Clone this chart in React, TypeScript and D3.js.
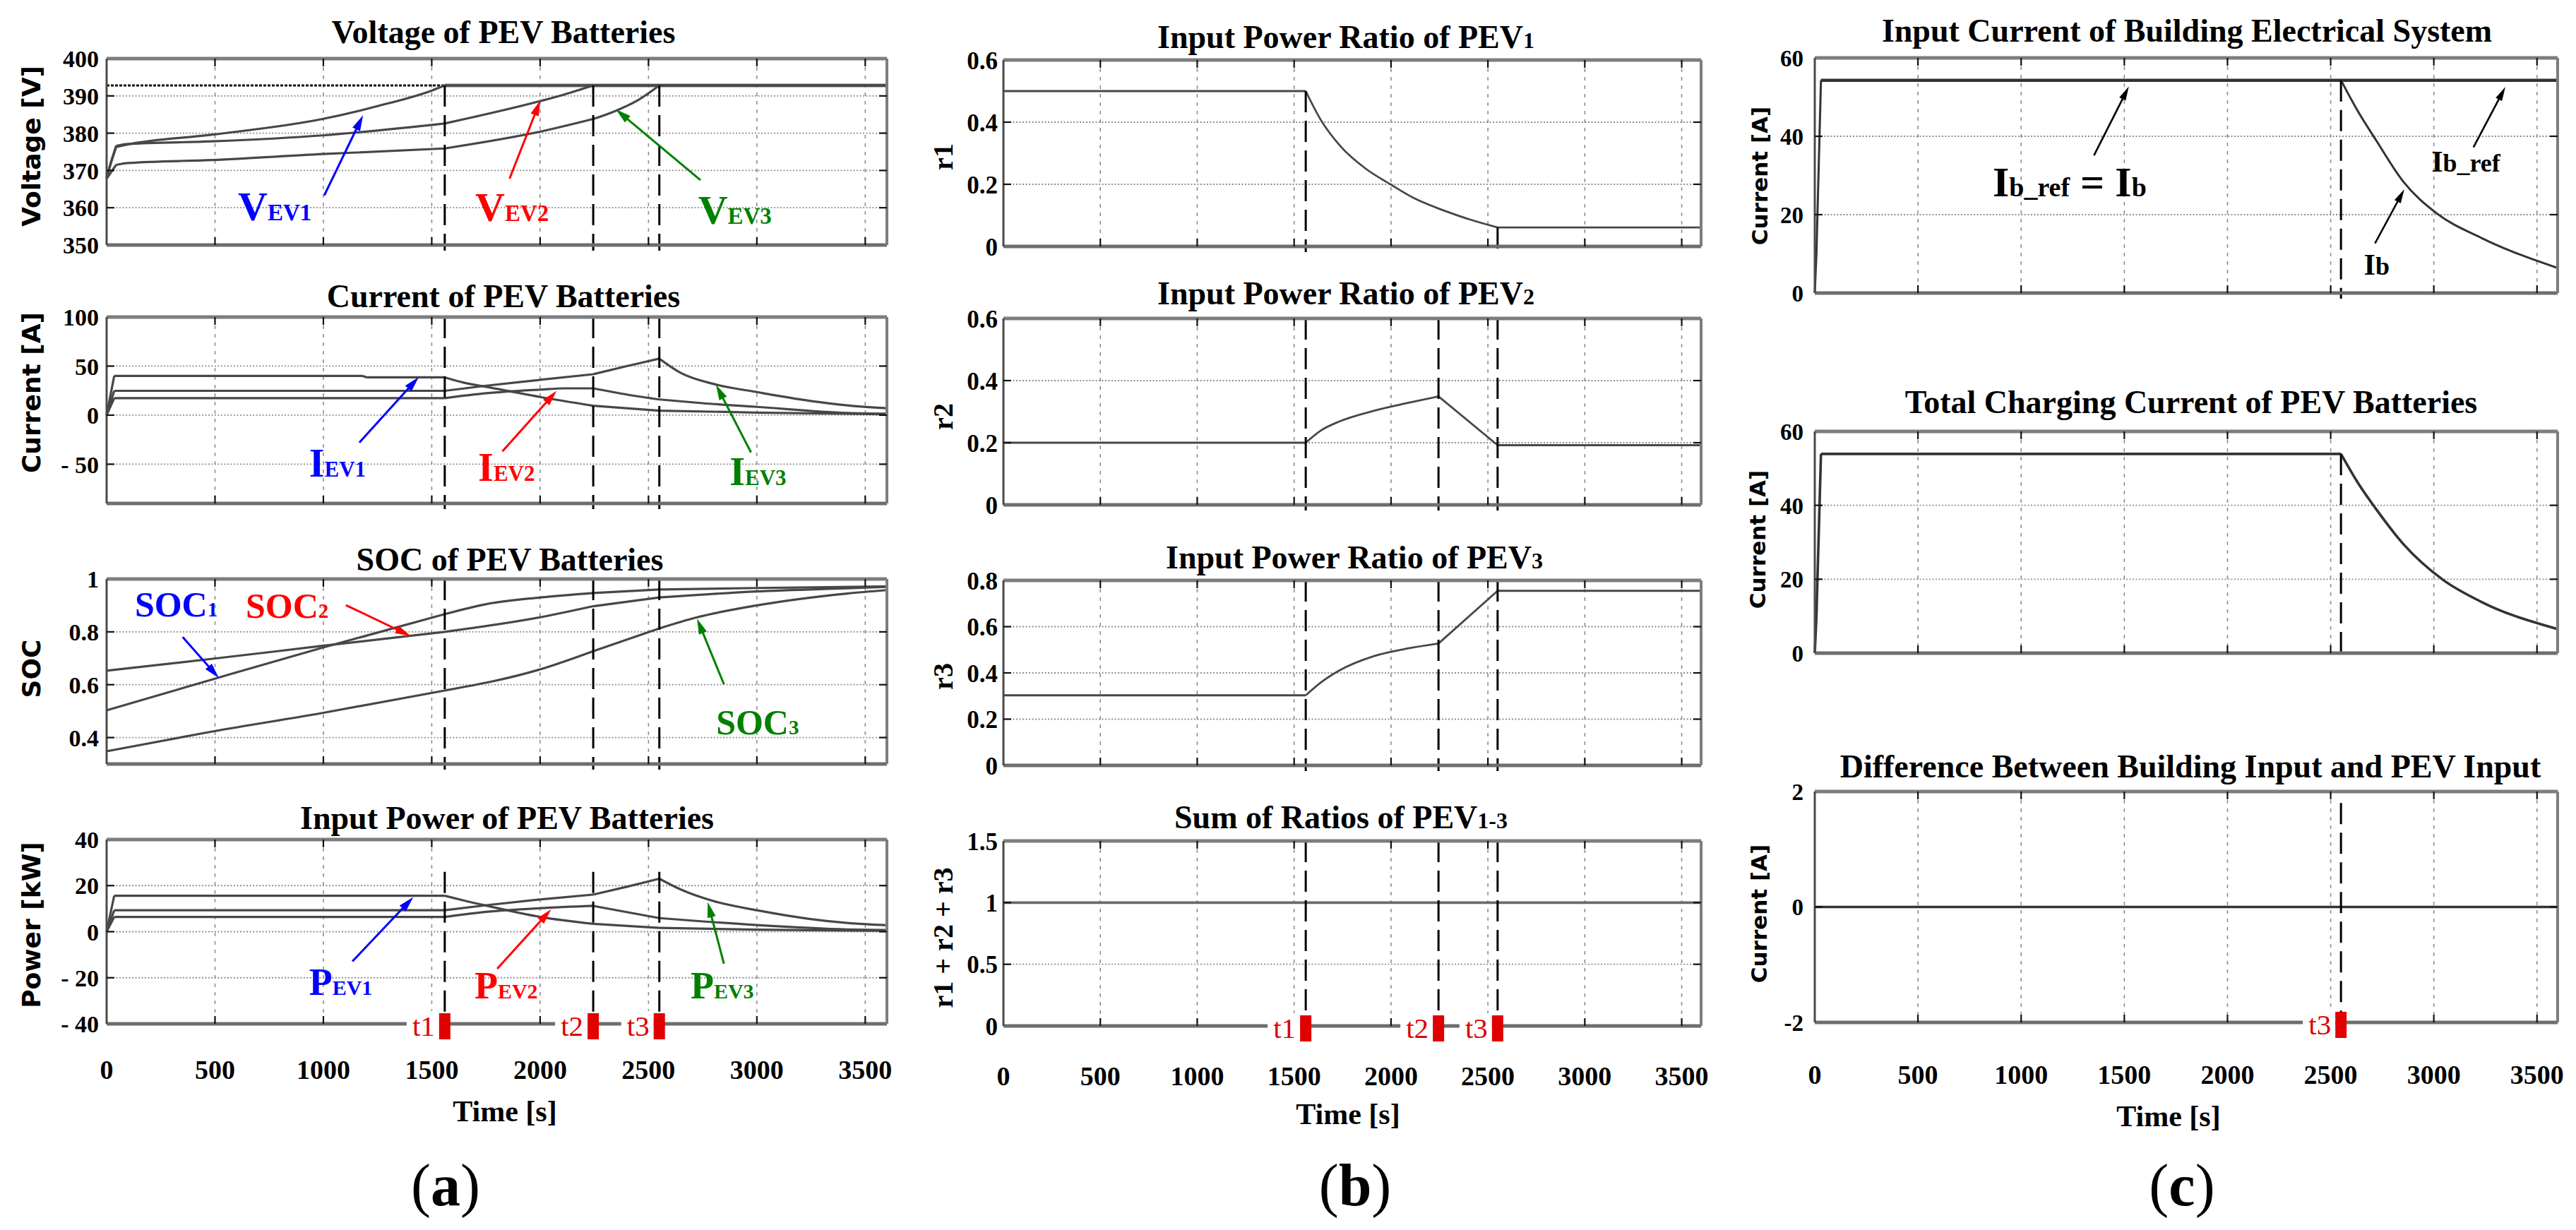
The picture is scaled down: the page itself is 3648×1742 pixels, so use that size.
import React from 'react';
import * as d3 from 'd3';

type Pt = [number, number];

// ---------------- data ----------------
const timeDomain: [number, number] = [0, 3600];
const timeTicks = [0, 500, 1000, 1500, 2000, 2500, 3000, 3500];
const T1 = 1560;
const T2 = 2245;
const T3 = 2550;
const eventTimes = [T1, T2, T3];
const eventLabels = ['t1', 't2', 't3'];
const kinkTimes = [T1, T2, T3, 1180, 1200];

// (a) voltage [V]
const vMax = 392.8;
const vEv1: Pt[] = [[0, 368], [20, 372], [44, 376.3], [100, 377], [488, 379.6], [996, 383.8], [1253, 387.3], [1503, 391.5], [T1, 392.8], [3600, 392.8]];
const vEv2: Pt[] = [[0, 368], [20, 372.3], [44, 376.6], [100, 377.1], [488, 377.8], [996, 379.4], [T1, 382.6], [2000, 388.6], [2113, 390.4], [T2, 392.8], [3600, 392.8]];
const vEv3: Pt[] = [[0, 367.8], [20, 369.5], [44, 371.5], [100, 372], [488, 372.8], [996, 374.4], [T1, 375.9], [2000, 380.4], [T2, 383.8], [2349, 386], [2450, 388.8], [T3, 392.8], [3600, 392.8]];

// (a) current [A]
const iEv1: Pt[] = [[0, 0], [35, 40], [1180, 40], [1200, 38.5], [T1, 38.5], [1650, 33], [1752, 28.8], [2000, 18.5], [T2, 9.6], [T3, 4.6], [3000, 2.6], [3417, 1.4], [3600, 1]];
const iEv2: Pt[] = [[0, 0], [35, 17.3], [T1, 17.3], [1752, 22.3], [2000, 26], [2113, 27.3], [T2, 27.3], [2400, 21], [T3, 16], [2749, 12.2], [3000, 8.4], [3417, 2.2], [3600, 1.5]];
const iEv3: Pt[] = [[0, 0], [35, 24.8], [T1, 24.8], [1752, 30], [2000, 36], [T2, 41.7], [2400, 50], [T3, 57.6], [2649, 43], [2811, 31.2], [3000, 23.5], [3247, 14.5], [3417, 10], [3600, 7]];

// (a) SOC
const soc1: Pt[] = [[0, 0.503], [488, 0.62], [996, 0.74], [T1, 0.867], [1752, 0.905], [2000, 0.93], [T2, 0.947], [T3, 0.96], [3000, 0.966], [3600, 0.972]];
const soc2: Pt[] = [[0, 0.653], [488, 0.698], [996, 0.747], [T1, 0.8], [2000, 0.855], [T2, 0.897], [T3, 0.93], [3000, 0.953], [3417, 0.965], [3600, 0.97]];
const soc3: Pt[] = [[0, 0.348], [488, 0.423], [996, 0.493], [T1, 0.578], [2000, 0.658], [T2, 0.727], [T3, 0.813], [2724, 0.855], [3000, 0.9], [3417, 0.945], [3600, 0.958]];

// (a) power [kW]
const pEv1: Pt[] = [[0, 0], [35, 15.6], [T1, 15.6], [1650, 13.5], [1752, 11.3], [2000, 6.4], [T2, 3.4], [T3, 1.65], [3000, 0.9], [3417, 0.5], [3600, 0.4]];
const pEv2: Pt[] = [[0, 0], [35, 6.4], [T1, 6.4], [1752, 8.6], [2000, 10.2], [T2, 11.2], [T3, 5.9], [3000, 2.9], [3417, 1], [3600, 0.7]];
const pEv3: Pt[] = [[0, 0], [35, 9.3], [T1, 9.3], [1752, 11.5], [2000, 14], [T2, 16.1], [2400, 19.5], [T3, 23], [2649, 18.3], [2811, 13], [3000, 9.3], [3247, 5.5], [3417, 3.8], [3600, 2.8]];

// (b) ratios
const ratio1: Pt[] = [[0, 0.5], [T1, 0.5], [1635, 0.41], [1740, 0.322], [1870, 0.25], [1997, 0.2], [2120, 0.155], [T2, 0.122], [2400, 0.088], [T3, 0.061], [3600, 0.061]];
const ratio2: Pt[] = [[0, 0.2], [T1, 0.2], [1640, 0.24], [1732, 0.268], [1913, 0.303], [2095, 0.329], [T2, 0.349], [T3, 0.192], [3600, 0.192]];
const ratio3: Pt[] = [[0, 0.303], [T1, 0.303], [1640, 0.36], [1732, 0.41], [1913, 0.473], [2095, 0.507], [T2, 0.527], [T3, 0.755], [3600, 0.755]];
const ratioSum: Pt[] = [[0, 1], [3600, 1]];

// (c) building / PEV currents [A]
const ibRef: Pt[] = [[30, 54.3], [3600, 54.3]];
const ibActual: Pt[] = [[0, 0], [8, 10], [30, 54.3], [T3, 54.3], [2633, 46.3], [2720, 39], [2851, 28.5], [3015, 20.3], [3233, 14], [3600, 6.4]];
const totalCharging: Pt[] = [[0, 0], [8, 10], [30, 53.9], [T3, 53.9], [2633, 46], [2720, 39], [2851, 29.6], [3043, 19.9], [3233, 13.8], [3600, 6.5]];
const diffCurrent: Pt[] = [[0, 0], [3600, 0]];

// tick labels
const voltTicks = [350, 360, 370, 380, 390, 400];
const voltLabels = ['350', '360', '370', '380', '390', '400'];
const currTicks = [-50, 0, 50, 100];
const currLabels = ['- 50', '0', '50', '100'];
const socTicks = [0.4, 0.6, 0.8, 1];
const socLabels = ['0.4', '0.6', '0.8', '1'];
const powTicks = [-40, -20, 0, 20, 40];
const powLabels = ['- 40', '- 20', '0', '20', '40'];
const r12Ticks = [0, 0.2, 0.4, 0.6];
const r12Labels = ['0', '0.2', '0.4', '0.6'];
const r3Ticks = [0, 0.2, 0.4, 0.6, 0.8];
const r3Labels = ['0', '0.2', '0.4', '0.6', '0.8'];
const sumTicks = [0, 0.5, 1, 1.5];
const sumLabels = ['0', '0.5', '1', '1.5'];
const ampTicks = [0, 20, 40, 60];
const ampLabels = ['0', '20', '40', '60'];
const diffTicks = [-2, 0, 2];
const diffLabels = ['-2', '0', '2'];

const BLUE = '#0000ff';
const RED = '#ff0000';
const GREEN = '#008000';
const BLACK = '#000000';

type Note = { parts: [string, number][]; color: string; at: Pt; tail: Pt; head: Pt };
const voltageNotes: Note[] = [
  { parts: [['V', 58], ['EV1', 33]], color: BLUE, at: [606, 356.6], tail: [1004, 363.3], head: [1183, 384.8] },
  { parts: [['V', 58], ['EV2', 33]], color: RED, at: [1701, 356.4], tail: [1859, 367.8], head: [2001, 388.8] },
  { parts: [['V', 58], ['EV3', 33]], color: GREEN, at: [2729, 355.7], tail: [2740, 367.4], head: [2349, 386.4] },
];
const currentNotes: Note[] = [
  { parts: [['I', 56], ['EV1', 31]], color: BLUE, at: [934, -62.3], tail: [1166, -28], head: [1440, 38.8] },
  { parts: [['I', 56], ['EV2', 31]], color: RED, at: [1714, -67.3], tail: [1826, -37], head: [2076, 24.8] },
  { parts: [['I', 56], ['EV3', 31]], color: GREEN, at: [2874, -71], tail: [2973, -38], head: [2811, 31.2] },
];
const socNotes: Note[] = [
  { parts: [['SOC', 50], ['1', 29]], color: BLUE, at: [130, 0.859], tail: [351, 0.78], head: [518, 0.625] },
  { parts: [['SOC', 50], ['2', 29]], color: RED, at: [642, 0.854], tail: [1104, 0.901], head: [1403, 0.784] },
  { parts: [['SOC', 50], ['3', 29]], color: GREEN, at: [2812, 0.411], tail: [2848, 0.602], head: [2724, 0.85] },
];
const powerNotes: Note[] = [
  { parts: [['P', 54], ['EV1', 30]], color: BLUE, at: [934, -27.4], tail: [1134, -12.9], head: [1415, 15] },
  { parts: [['P', 54], ['EV2', 30]], color: RED, at: [1697, -28.9], tail: [1802, -16.1], head: [2051, 9.7] },
  { parts: [['P', 54], ['EV3', 30]], color: GREEN, at: [2694, -28.9], tail: [2848, -13.9], head: [2773, 12.9] },
];
const ibNotes: Note[] = [
  { parts: [['I', 60], ['b_ref', 38], [' = I', 60], ['b', 38]], color: BLACK, at: [862, 24.7], tail: [1353, 35.1], head: [1522, 52.7] },
  { parts: [['I', 42], ['b_ref', 36]], color: BLACK, at: [2988, 31], tail: [3192, 37.2], head: [3347, 52.6] },
  { parts: [['I', 42], ['b', 36]], color: BLACK, at: [2661, 4.7], tail: [2715, 12.7], head: [2857, 26.5] },
];

// ---------------- drawing helpers ----------------
const SERIF = '"Liberation Serif", "Times New Roman", Times, serif';
const SANS = '"DejaVu Sans", Verdana, sans-serif';

type Scale = d3.ScaleLinear<number, number>;

function segPath(data: Pt[], x: Scale, y: Scale): string {
  const segs: Pt[][] = [];
  let cur: Pt[] = [];
  data.forEach((p, i) => {
    cur.push(p);
    const kink = kinkTimes.includes(p[0]) || p[0] <= 50 || i === data.length - 1;
    if (kink) {
      if (cur.length >= 2) segs.push(cur);
      cur = [p];
    }
  });
  const line = d3.line<Pt>().x((d) => x(d[0])).y((d) => y(d[1])).curve(d3.curveMonotoneX);
  return segs.map((s) => line(s) || '').join('');
}

function Arrow(props: { x1: number; y1: number; x2: number; y2: number; color: string; w: number; hl: number; hw: number }) {
  const { x1, y1, x2, y2, color, w, hl, hw } = props;
  const dx = x2 - x1, dy = y2 - y1;
  const L = Math.hypot(dx, dy);
  const ux = dx / L, uy = dy / L;
  const bx = x2 - ux * hl, by = y2 - uy * hl;
  const px = -uy, py = ux;
  return (
    <g>
      <line x1={x1} y1={y1} x2={bx + ux * 2} y2={by + uy * 2} stroke={color} strokeWidth={w} />
      <polygon points={`${x2},${y2} ${bx + (px * hw) / 2},${by + (py * hw) / 2} ${bx - (px * hw) / 2},${by - (py * hw) / 2}`} fill={color} />
    </g>
  );
}

type SeriesCfg = { data: Pt[]; color?: string; width?: number };
type EventCfg = { t: number; from?: number };

type PanelProps = {
  x0: number; x1: number; y0: number; y1: number;
  yDomain: [number, number];
  yTicks: number[]; yTickLabels: string[]; yTickRight: number; yTickSize: number;
  title: string; titleSub?: string; titleX: number; titleY: number;
  ylabel: string; ylabelX: number; ylabelY: number; ylabelFont: string; ylabelSize: number;
  series: SeriesCfg[];
  events: EventCfg[];
  markers?: number[];
  xLabelY?: number;
  notes?: Note[];
  noteArrow?: { w: number; hl: number; hw: number };
  extra?: (x: Scale, y: Scale) => React.ReactNode;
};

function Panel(p: PanelProps) {
  const x = d3.scaleLinear().domain(timeDomain).range([p.x0, p.x1]);
  const y = d3.scaleLinear().domain(p.yDomain).range([p.y1, p.y0]);
  const gridT = timeTicks.filter((t) => t > 0);
  const innerY = p.yTicks.filter((v) => v > p.yDomain[0] && v < p.yDomain[1]);
  const gridCol = '#8e8e8e';
  return (
    <g>
      {gridT.map((t) => (
        <line key={'gx' + t} x1={x(t)} x2={x(t)} y1={p.y0} y2={p.y1} stroke={gridCol} strokeWidth={1.6} strokeDasharray="5 7" />
      ))}
      {innerY.map((v) => (
        <line key={'gy' + v} x1={p.x0} x2={p.x1} y1={y(v)} y2={y(v)} stroke={gridCol} strokeWidth={1.8} strokeDasharray="2 2.5" />
      ))}
      {p.extra ? p.extra(x, y) : null}
      {p.series.map((s, i) => (
        <path key={'s' + i} d={segPath(s.data, x, y)} fill="none" stroke={s.color || '#474747'} strokeWidth={s.width || 3.2} strokeLinejoin="round" />
      ))}
      {p.events.map((e, i) => (
        <line key={'ev' + i} x1={x(e.t)} x2={x(e.t)} y1={e.from === undefined ? p.y0 : y(e.from)} y2={p.y1 + 8} stroke="#000" strokeWidth={3} strokeDasharray="30 12" />
      ))}
      {/* box */}
      <line x1={p.x0} x2={p.x1} y1={p.y0} y2={p.y0} stroke="#7d7d7d" strokeWidth={5} />
      <line x1={p.x0} x2={p.x1} y1={p.y1} y2={p.y1} stroke="#6e6e6e" strokeWidth={5} />
      <line x1={p.x0} x2={p.x0} y1={p.y0} y2={p.y1} stroke="#4a4a4a" strokeWidth={3} />
      <line x1={p.x1} x2={p.x1} y1={p.y0} y2={p.y1} stroke="#7d7d7d" strokeWidth={4} />
      {gridT.map((t) => (
        <g key={'tx' + t}>
          <line x1={x(t)} x2={x(t)} y1={p.y1} y2={p.y1 - 11} stroke="#111" strokeWidth={2.2} />
          <line x1={x(t)} x2={x(t)} y1={p.y0} y2={p.y0 + 11} stroke="#111" strokeWidth={2.2} />
        </g>
      ))}
      {innerY.map((v) => (
        <g key={'ty' + v}>
          <line x1={p.x0} x2={p.x0 + 11} y1={y(v)} y2={y(v)} stroke="#111" strokeWidth={2.2} />
          <line x1={p.x1} x2={p.x1 - 11} y1={y(v)} y2={y(v)} stroke="#111" strokeWidth={2.2} />
        </g>
      ))}
      {p.yTicks.map((v, i) => (
        <text key={'yl' + v} x={p.yTickRight} y={y(v)} dy="0.36em" textAnchor="end" fontFamily={SERIF} fontWeight="bold" fontSize={p.yTickSize} fill="#000">
          {p.yTickLabels[i]}
        </text>
      ))}
      <text x={p.titleX} y={p.titleY} textAnchor="middle" fontFamily={SERIF} fontWeight="bold" fontSize={46} fill="#000">
        <tspan>{p.title}</tspan>
        {p.titleSub ? <tspan fontSize={32}>{p.titleSub}</tspan> : null}
      </text>
      <text transform={`translate(${p.ylabelX},${p.ylabelY}) rotate(-90)`} textAnchor="middle" fontFamily={p.ylabelFont} fontWeight="bold" fontSize={p.ylabelSize} fill="#000">
        {p.ylabel}
      </text>
      {p.xLabelY !== undefined
        ? timeTicks.map((t) => (
            <text key={'xl' + t} x={x(t)} y={p.xLabelY} textAnchor="middle" fontFamily={SERIF} fontWeight="bold" fontSize={38} fill="#000">
              {String(t)}
            </text>
          ))
        : null}
      {p.markers
        ? p.markers.map((k) => {
            const cx = x(eventTimes[k]);
            return (
              <g key={'mk' + k}>
                <rect x={cx - 54} y={p.y1 - 18} width={46} height={40} fill="#fff" />
                <text x={cx - 14} y={p.y1 + 17} textAnchor="end" fontFamily={SERIF} fontSize={41} fill="#e00000">
                  {eventLabels[k]}
                </text>
                <rect x={cx - 8} y={p.y1 - 15} width={16} height={37} fill="#e00000" />
              </g>
            );
          })
        : null}
      {p.notes
        ? p.notes.map((n, i) => (
            <g key={'n' + i}>
              <text x={x(n.at[0])} y={y(n.at[1])} fontFamily={SERIF} fontWeight="bold" fill={n.color}>
                {n.parts.map((pt, j) => (
                  <tspan key={j} fontSize={pt[1]} style={{ whiteSpace: 'pre' }}>
                    {pt[0]}
                  </tspan>
                ))}
              </text>
              <Arrow x1={x(n.tail[0])} y1={y(n.tail[1])} x2={x(n.head[0])} y2={y(n.head[1])} color={n.color} w={p.noteArrow ? p.noteArrow.w : 3} hl={p.noteArrow ? p.noteArrow.hl : 22} hw={p.noteArrow ? p.noteArrow.hw : 12} />
            </g>
          ))
        : null}
    </g>
  );
}

// ---------------- layout ----------------
const colA = { x0: 151, x1: 1256 };
const colB = { x0: 1421, x1: 2409 };
const colC = { x0: 2570, x1: 3622 };

export default function App() {
  const eventsAll: EventCfg[] = eventTimes.map((t) => ({ t }));
  return (
    <svg width={3648} height={1742} viewBox="0 0 3648 1742" style={{ position: 'fixed', left: 0, top: 0, display: 'block', background: '#fff' }}>
      <rect x={0} y={0} width={3648} height={1742} fill="#fff" />

      {/* ---------- column (a) ---------- */}
      <Panel
        {...colA} y0={83} y1={347} yDomain={[350, 400]}
        yTicks={voltTicks} yTickLabels={voltLabels} yTickRight={140} yTickSize={34}
        title="Voltage of PEV Batteries" titleX={713} titleY={61}
        ylabel="Voltage [V]" ylabelX={57} ylabelY={207} ylabelFont={SANS} ylabelSize={36}
        series={[{ data: vEv3 }, { data: vEv2 }, { data: vEv1 }]}
        events={eventTimes.map((t) => ({ t, from: vMax }))}
        notes={voltageNotes}
        extra={(x, y) => (
          <g>
            <line x1={x(0)} x2={x(T1)} y1={y(vMax)} y2={y(vMax)} stroke="#111" strokeWidth={3} strokeDasharray="4 2" />
            <line x1={x(T1)} x2={x(3600)} y1={y(vMax)} y2={y(vMax)} stroke="#777" strokeWidth={5} />
          </g>
        )}
      />
      <Panel
        {...colA} y0={449} y1={713} yDomain={[-90, 100]}
        yTicks={currTicks} yTickLabels={currLabels} yTickRight={140} yTickSize={34}
        title="Current of PEV Batteries" titleX={713} titleY={435}
        ylabel="Current [A]" ylabelX={57} ylabelY={556} ylabelFont={SANS} ylabelSize={36}
        series={[{ data: iEv1 }, { data: iEv2 }, { data: iEv3 }]}
        events={eventsAll}
        notes={currentNotes}
      />
      <Panel
        {...colA} y0={820} y1={1082} yDomain={[0.3, 1]}
        yTicks={socTicks} yTickLabels={socLabels} yTickRight={140} yTickSize={34}
        title="SOC of PEV Batteries" titleX={722} titleY={808}
        ylabel="SOC" ylabelX={57} ylabelY={947} ylabelFont={SANS} ylabelSize={36}
        series={[{ data: soc1 }, { data: soc2 }, { data: soc3 }]}
        events={eventsAll}
        notes={socNotes}
      />
      <Panel
        {...colA} y0={1189} y1={1450} yDomain={[-40, 40]}
        yTicks={powTicks} yTickLabels={powLabels} yTickRight={140} yTickSize={34}
        title="Input Power of PEV Batteries" titleX={718} titleY={1174}
        ylabel="Power [kW]" ylabelX={57} ylabelY={1310} ylabelFont={SANS} ylabelSize={36}
        series={[{ data: pEv1 }, { data: pEv2 }, { data: pEv3 }]}
        events={eventTimes.map((t) => ({ t, from: 26 }))}
        markers={[0, 1, 2]}
        xLabelY={1528}
        notes={powerNotes}
      />
      <text x={715} y={1588} textAnchor="middle" fontFamily={SERIF} fontWeight="bold" fontSize={42}>Time [s]</text>
      <text x={631} y={1707} textAnchor="middle" fontFamily={SERIF} fontSize={84}>
        <tspan>(</tspan><tspan fontWeight="bold">a</tspan><tspan>)</tspan>
      </text>

      {/* ---------- column (b) ---------- */}
      <Panel
        {...colB} y0={85} y1={349} yDomain={[0, 0.6]}
        yTicks={r12Ticks} yTickLabels={r12Labels} yTickRight={1413} yTickSize={35}
        title="Input Power Ratio of PEV" titleSub="1" titleX={1906} titleY={68}
        ylabel="r1" ylabelX={1349} ylabelY={222} ylabelFont={SERIF} ylabelSize={40}
        series={[{ data: ratio1, width: 2.8 }]}
        events={[{ t: T1, from: 0.5 }, { t: T3, from: 0.061 }]}
      />
      <Panel
        {...colB} y0={451} y1={715} yDomain={[0, 0.6]}
        yTicks={r12Ticks} yTickLabels={r12Labels} yTickRight={1413} yTickSize={35}
        title="Input Power Ratio of PEV" titleSub="2" titleX={1906} titleY={431}
        ylabel="r2" ylabelX={1349} ylabelY={590} ylabelFont={SERIF} ylabelSize={40}
        series={[{ data: ratio2, width: 2.8 }]}
        events={eventsAll}
      />
      <Panel
        {...colB} y0={822} y1={1084} yDomain={[0, 0.8]}
        yTicks={r3Ticks} yTickLabels={r3Labels} yTickRight={1413} yTickSize={35}
        title="Input Power Ratio of PEV" titleSub="3" titleX={1918} titleY={805}
        ylabel="r3" ylabelX={1349} ylabelY={958} ylabelFont={SERIF} ylabelSize={40}
        series={[{ data: ratio3, width: 2.8 }]}
        events={eventsAll}
      />
      <Panel
        {...colB} y0={1191} y1={1453} yDomain={[0, 1.5]}
        yTicks={sumTicks} yTickLabels={sumLabels} yTickRight={1413} yTickSize={35}
        title="Sum of Ratios of PEV" titleSub="1-3" titleX={1899} titleY={1173}
        ylabel="r1 + r2 + r3" ylabelX={1349} ylabelY={1328} ylabelFont={SERIF} ylabelSize={40}
        series={[{ data: ratioSum, color: '#6a6a6a', width: 3.6 }]}
        events={eventsAll}
        markers={[0, 1, 2]}
        xLabelY={1537}
      />
      <text x={1909} y={1592} textAnchor="middle" fontFamily={SERIF} fontWeight="bold" fontSize={42}>Time [s]</text>
      <text x={1919} y={1707} textAnchor="middle" fontFamily={SERIF} fontSize={84}>
        <tspan>(</tspan><tspan fontWeight="bold">b</tspan><tspan>)</tspan>
      </text>

      {/* ---------- column (c) ---------- */}
      <Panel
        {...colC} y0={82} y1={415} yDomain={[0, 60]}
        yTicks={ampTicks} yTickLabels={ampLabels} yTickRight={2554} yTickSize={33}
        title="Input Current of Building Electrical System" titleX={3097} titleY={59}
        ylabel="Current [A]" ylabelX={2503} ylabelY={249} ylabelFont={SANS} ylabelSize={31}
        series={[{ data: ibRef, color: '#333', width: 4.5 }, { data: ibActual, color: '#333', width: 3 }]}
        events={[{ t: T3, from: 54.3 }]}
        notes={ibNotes}
        noteArrow={{ w: 2.6, hl: 20, hw: 10 }}
      />
      <Panel
        {...colC} y0={611} y1={925} yDomain={[0, 60]}
        yTicks={ampTicks} yTickLabels={ampLabels} yTickRight={2554} yTickSize={33}
        title="Total Charging Current of PEV Batteries" titleX={3103} titleY={585}
        ylabel="Current [A]" ylabelX={2500} ylabelY={764} ylabelFont={SANS} ylabelSize={31}
        series={[{ data: totalCharging, color: '#333', width: 3.6 }]}
        events={[{ t: T3, from: 53.9 }]}
      />
      <Panel
        {...colC} y0={1121} y1={1448} yDomain={[-2, 2]}
        yTicks={diffTicks} yTickLabels={diffLabels} yTickRight={2554} yTickSize={33}
        title="Difference Between Building Input and PEV Input" titleX={3102} titleY={1101}
        ylabel="Current [A]" ylabelX={2502} ylabelY={1294} ylabelFont={SANS} ylabelSize={31}
        series={[{ data: diffCurrent, color: '#333', width: 3.6 }]}
        events={[{ t: T3, from: 1.8 }]}
        markers={[2]}
        xLabelY={1535}
      />
      <text x={3071} y={1595} textAnchor="middle" fontFamily={SERIF} fontWeight="bold" fontSize={42}>Time [s]</text>
      <text x={3090} y={1707} textAnchor="middle" fontFamily={SERIF} fontSize={84}>
        <tspan>(</tspan><tspan fontWeight="bold">c</tspan><tspan>)</tspan>
      </text>
    </svg>
  );
}
